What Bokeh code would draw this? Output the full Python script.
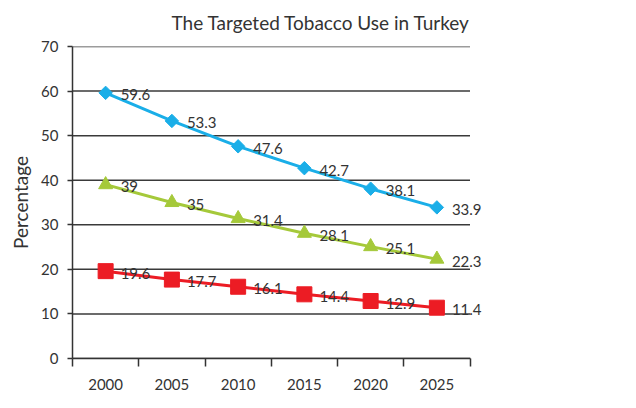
import math
from bokeh.plotting import figure
from bokeh.models import FixedTicker, Range1d, ColumnDataSource, LabelSet, Title
from bokeh.embed import file_html
from bokeh.resources import INLINE
from bokeh.core.properties import value

years = ["2000", "2005", "2010", "2015", "2020", "2025"]
blue_vals = [59.6, 53.3, 47.6, 42.7, 38.1, 33.9]
green_vals = [39, 35, 31.4, 28.1, 25.1, 22.3]
red_vals = [19.6, 17.7, 16.1, 14.4, 12.9, 11.4]
y_ticks = [0, 10, 20, 30, 40, 50, 60, 70]

FONT = "Lato"
TXT = "#333333"

n = len(years)
xs = [i + 0.5 for i in range(n)]

p = figure(width=620, height=400, output_backend="svg", toolbar_location=None,
           x_range=Range1d(0, n + 0.4), y_range=Range1d(0, 70),
           min_border_left=72, min_border_right=124, min_border_top=46, min_border_bottom=42)
p.outline_line_color = None
p.background_fill_color = "white"
p.border_fill_color = "white"

p.title.text = "The Targeted Tobacco Use in Turkey"
p.title.align = "left"
p.title.offset = 99
p.title.text_font = FONT
p.title.text_font_size = "19px"
p.title.text_font_style = "normal"
p.title.text_color = TXT

# invisible spacer between the title and the frame
p.add_layout(Title(text=" ", text_font_size="6px", text_color="white", standoff=0), "above")

# x axis
xa = p.xaxis[0]
xa.bounds = (0, n)
xa.ticker = FixedTicker(ticks=xs, minor_ticks=list(range(n + 1)))
xa.major_label_overrides = {x: y for x, y in zip(xs, years)}
xa.major_tick_out = 0
xa.major_tick_in = 0
xa.minor_tick_out = 8
xa.minor_tick_in = 0
xa.minor_tick_line_color = TXT
xa.minor_tick_line_width = 1.5
xa.axis_line_color = TXT
xa.axis_line_width = 1.5
xa.major_label_text_font = FONT
xa.major_label_text_font_size = "15px"
xa.major_label_text_color = TXT
xa.major_label_standoff = 12

# y axis
ya = p.yaxis[0]
ya.ticker = FixedTicker(ticks=y_ticks, minor_ticks=[])
ya.major_tick_out = 5
ya.major_tick_in = 0
ya.major_tick_line_color = TXT
ya.major_tick_line_width = 1.5
ya.axis_line_color = TXT
ya.axis_line_width = 1.5
ya.major_label_text_font = FONT
ya.major_label_text_font_size = "15px"
ya.major_label_text_color = TXT
ya.major_label_standoff = 9
ya.axis_label = "Percentage"
ya.axis_label_text_font = FONT
ya.axis_label_text_font_size = "19px"
ya.axis_label_text_font_style = "normal"
ya.axis_label_text_color = TXT
ya.axis_label_standoff = 6

# horizontal gridlines limited to the category span
p.xgrid.grid_line_color = None
p.ygrid.grid_line_color = None
grid_src = ColumnDataSource(dict(x0=[0] * len(y_ticks), x1=[n] * len(y_ticks), y=y_ticks))
p.segment(x0="x0", y0="y", x1="x1", y1="y", source=grid_src,
          line_color="#3a3a3a", line_width=1.5)

series = [
    (blue_vals, "#1AAEE8", "square", 9.5, math.pi / 4),
    (green_vals, "#A5C93A", "triangle", 14, 0),
    (red_vals, "#EC1C24", "square", 15, 0),
]
for vals, color, marker, size, angle in series:
    src = ColumnDataSource(dict(x=xs, y=vals, lab=[f"{v:g}" for v in vals]))
    p.line("x", "y", source=src, line_color=color, line_width=3)
    p.scatter("x", "y", source=src, marker=marker, size=size, angle=angle,
              fill_color=color, line_color=color)
    p.add_layout(LabelSet(x="x", y="y", text="lab", source=src, x_offset=15, y_offset=-2,
                          text_align="left", text_baseline="middle", text_font=value(FONT),
                          text_font_size=value("15px"), text_color=TXT))

open("out.html", "w").write(file_html(p, INLINE))
